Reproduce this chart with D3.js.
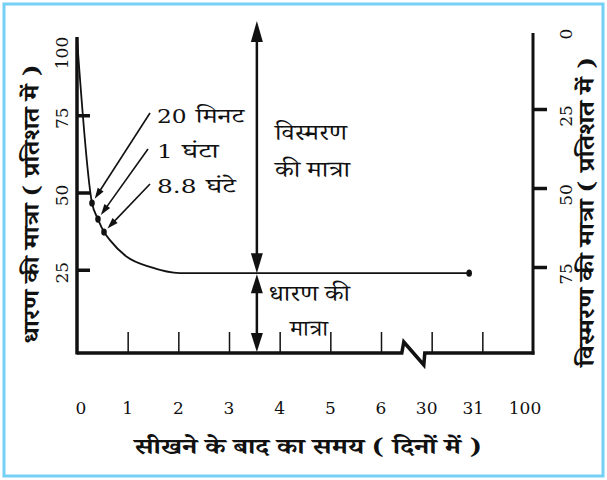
<!DOCTYPE html>
<html>
<head>
<meta charset="utf-8">
<script src="https://cdn.jsdelivr.net/npm/d3@7"></script>
<style>
  html, body { margin: 0; padding: 0; background: #fff; }
  svg text { fill: #111; }
  .num { font-family: "DejaVu Serif", "Liberation Serif", serif; }
  .hi { font-family: "Noto Serif Devanagari", "Noto Sans Devanagari", "Noto Sans", sans-serif; }
</style>
</head>
<body>
<svg id="chart" width="607" height="480"></svg>
<script>
// x positions are in axis-slot units (0 = first tick, 9 = last tick)
const xTickLabels = ["0", "1", "2", "3", "4", "5", "6", "30", "31", "100"];
const retentionTicks = [25, 50, 75, 100];
const forgetTicks = [0, 25, 50, 75];

// retention curve
const curveX = [0, 0.296, 0.414, 0.533, 0.65, 0.99, 1.44, 2.03, 7.74];
const curveY = [100, 46.6, 41.4, 37.2, 34.6, 29.1, 25.9, 23.9, 23.9];

// marked points (20 min, 1 hour, 8.8 hours) and the end point
const markX = [0.296, 0.414, 0.533, 7.74];
const markY = [46.6, 41.4, 37.2, 23.9];
const markNums = ["20", "1", "8.8"];
const markWords = ["मिनट", "घंटा", "घंटे"];

const arrowX = 3.55;      // where the amount arrows stand
const breakX = 6.45;      // axis break between 6 and 30

const svg = d3.select("#chart");

const x = d3.scaleLinear().domain([0, 9]).range([77, 533]);
const yL = d3.scaleLinear().domain([0, 100]).range([347, 38]);
const yR = d3.scaleLinear().domain([0, 100]).range([30, 346]);
const baseY = 353;

// stretch a text horizontally so it covers the wanted width
function fitWidth(t, width) {
  const w = t.node().getComputedTextLength();
  return w > 0 ? width / w : 1;
}

function head(tx, ty, fx, fy, len, half) {
  const dx = tx - fx, dy = ty - fy, d = Math.hypot(dx, dy);
  const ux = dx / d, uy = dy / d;
  const bx = tx - ux * len, by = ty - uy * len;
  svg.append("path")
    .attr("d", `M${tx},${ty} L${bx - uy * half},${by + ux * half} L${bx + uy * half},${by - ux * half} Z`)
    .attr("fill", "#111");
}

// frame
svg.append("rect")
  .attr("x", 4).attr("y", 4).attr("width", 599).attr("height", 472)
  .attr("fill", "none").attr("stroke", "#74d0f4").attr("stroke-width", 3);

// left axis (retention)
const leftAxis = d3.axisRight(yL)
  .tickValues(retentionTicks.filter(d => d < 100))
  .tickSize(13).tickSizeOuter(0).tickFormat("");
const gL = svg.append("g").attr("transform", `translate(${x(0)},0)`).call(leftAxis);
gL.select(".domain").remove();
gL.selectAll(".tick line").attr("stroke", "#111").attr("stroke-width", 3.5);
svg.append("line")
  .attr("x1", x(0)).attr("x2", x(0)).attr("y1", yL(100) - 1).attr("y2", baseY + 1.5)
  .attr("stroke", "#111").attr("stroke-width", 3.5);

svg.selectAll("text.ltick").data(retentionTicks).join("text")
  .attr("class", "num ltick")
  .attr("font-size", 17)
  .attr("text-anchor", "middle")
  .attr("transform", d => `translate(68,${yL(d) + (d === 100 ? 15 : 3)}) rotate(-90)`)
  .text(d => d);

// right axis (forgetting)
const rightAxis = d3.axisRight(yR)
  .tickValues(forgetTicks.filter(d => d > 0))
  .tickSize(14).tickSizeOuter(0).tickFormat("");
const gR = svg.append("g").attr("transform", `translate(${x(9)},0)`).call(rightAxis);
gR.select(".domain").remove();
gR.selectAll(".tick line").attr("stroke", "#111").attr("stroke-width", 3.5);
svg.append("line")
  .attr("x1", x(9)).attr("x2", x(9)).attr("y1", yR(0) + 3).attr("y2", baseY + 1.5)
  .attr("stroke", "#111").attr("stroke-width", 3);

svg.selectAll("text.rtick").data(forgetTicks).join("text")
  .attr("class", "num rtick")
  .attr("font-size", 17)
  .attr("text-anchor", "middle")
  .attr("transform", d => `translate(572,${yR(d) + (d === 0 ? 4 : 7)}) rotate(-90)`)
  .text(d => d);

// bottom axis with break
const bottomAxis = d3.axisTop(x)
  .tickValues(d3.range(1, 9))
  .tickSize(21).tickSizeOuter(0).tickFormat("");
const gB = svg.append("g").attr("transform", `translate(0,${baseY})`).call(bottomAxis);
gB.select(".domain").remove();
gB.selectAll(".tick line").attr("stroke", "#111").attr("stroke-width", 1.5);

const bx = x(breakX);
svg.append("path")
  .attr("d", `M${x(0)},${baseY} L${bx - 2},${baseY} L${bx},${baseY - 11} L${bx + 20},${baseY + 12} L${bx + 21},${baseY} L${x(9) + 1.5},${baseY}`)
  .attr("fill", "none").attr("stroke", "#111").attr("stroke-width", 3.5)
  .attr("stroke-linejoin", "miter");

svg.selectAll("text.xtick").data(xTickLabels).join("text")
  .attr("class", "num xtick")
  .attr("font-size", 17)
  .attr("text-anchor", "middle")
  .attr("x", (d, i) => x(i) + (i === 0 ? 4 : i === 9 ? -8 : i === 7 ? -5 : i === 8 ? -9 : 0))
  .attr("y", 414)
  .text(d => d);

// retention curve
const line = d3.line()
  .x(d => x(d[0])).y(d => yL(d[1]))
  .curve(d3.curveMonotoneX);
svg.append("path")
  .datum(d3.zip(curveX, curveY))
  .attr("d", line)
  .attr("fill", "none").attr("stroke", "#111").attr("stroke-width", 1.8);

svg.selectAll("ellipse.mark").data(d3.zip(markX, markY)).join("ellipse")
  .attr("class", "mark")
  .attr("cx", d => x(d[0])).attr("cy", d => yL(d[1]))
  .attr("rx", 2.8).attr("ry", 3.6)
  .attr("fill", "#111");

// labelled pointers to the marks
const labelBase = [123, 158, 193];
const labelWidth = [78, 52, 69];
const pointerFrom = [[150, 113], [148, 149], [150, 184]];
markNums.forEach((n, i) => {
  const px = x(markX[i]), py = yL(markY[i]);
  const [fx, fy] = pointerFrom[i];
  const d = Math.hypot(fx - px, fy - py);
  const tx = px + (fx - px) / d * 5, ty = py + (fy - py) / d * 5;
  svg.append("line")
    .attr("x1", fx).attr("y1", fy).attr("x2", tx + (fx - px) / d * 6).attr("y2", ty + (fy - py) / d * 6)
    .attr("stroke", "#111").attr("stroke-width", 1.6);
  head(tx, ty, fx, fy, 11, 3.5);
  const t = svg.append("text");
  t.append("tspan").attr("class", "num").attr("font-size", 18).text(n);
  t.append("tspan").attr("class", "hi").attr("font-size", 21).attr("dx", 7).text(markWords[i]);
  t.attr("transform", `translate(157,${labelBase[i]}) scale(${fitWidth(t, labelWidth[i])},1)`);
});

// amount arrows
const ax = x(arrowX);
const flatY = yL(curveY[curveY.length - 1]);
svg.append("line")
  .attr("x1", ax).attr("x2", ax).attr("y1", 30).attr("y2", flatY - 8)
  .attr("stroke", "#111").attr("stroke-width", 2.5);
head(ax, 21, ax, 60, 21, 6);
head(ax, flatY, ax, flatY - 40, 20, 6);
svg.append("line")
  .attr("x1", ax).attr("x2", ax).attr("y1", flatY + 8).attr("y2", baseY - 8)
  .attr("stroke", "#111").attr("stroke-width", 2.5);
head(ax, flatY + 1, ax, flatY + 40, 19, 6);
head(ax, baseY - 1, ax, baseY - 40, 19, 6);

// texts inside the chart: [text, left, baseline, width]
const inner = [
  ["विस्मरण", 275, 140, 72],
  ["की मात्रा", 275, 177, 75],
  ["धारण की", 269, 301, 81],
  ["मात्रा", 290, 336, 38]
];
inner.forEach(([txt, lx, by, w]) => {
  const t = svg.append("text").attr("class", "hi").attr("font-size", 23).text(txt);
  t.attr("transform", `translate(${lx},${by}) scale(${fitWidth(t, w)},1)`);
});

// axis titles: [text, cx, cy, length, rotated]
const titles = [
  ["धारण की मात्रा ( प्रतिशत में )", 39, 204, 278, true],
  ["विस्मरण की मात्रा ( प्रतिशत में )", 594, 212, 309, true],
  ["सीखने के बाद का समय ( दिनों में )", 308, 454, 347, false]
];
titles.forEach(([txt, cx, cy, len, rot]) => {
  const t = svg.append("text")
    .attr("class", "hi")
    .attr("font-size", 22).attr("font-weight", "bold")
    .attr("text-anchor", "middle")
    .text(txt);
  t.attr("transform", `translate(${cx},${cy})${rot ? " rotate(-90)" : ""} scale(${fitWidth(t, len)},1)`);
});
</script>
</body>
</html>
